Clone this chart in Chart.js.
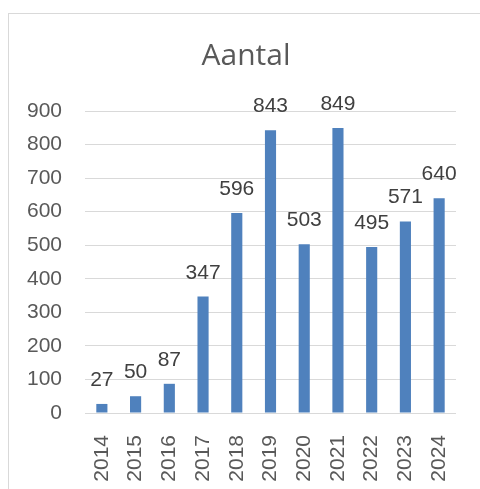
<!DOCTYPE html>
<html>
<head>
<meta charset="utf-8">
<script src="https://cdn.jsdelivr.net/npm/chart.js@4"></script>
<style>
  html, body { margin: 0; padding: 0; background: #ffffff; }
  #wrap { position: relative; width: 480px; height: 489px; overflow: hidden; }
  #frame { position: absolute; left: 8px; top: 13px; width: 600px; height: 600px; border: 1px solid #d9d9d9; box-sizing: border-box; }
  #c { position: absolute; left: 0; top: 0; }
</style>
</head>
<body>
<div id="wrap">
  <div id="frame"></div>
  <canvas id="c" width="480" height="489"></canvas>
</div>
<script>
const categories = ['2014','2015','2016','2017','2018','2019','2020','2021','2022','2023','2024'];
const values = [27, 50, 87, 347, 596, 843, 503, 849, 495, 571, 640];
const chartTitle = 'Aantal';
const yMin = 0, yMax = 900, yStep = 100;

const dataLabels = {
  id: 'dataLabels',
  afterDatasetsDraw(chart) {
    const ctx = chart.ctx;
    const meta = chart.getDatasetMeta(0);
    ctx.save();
    ctx.font = '21px "Liberation Sans", Arial, sans-serif';
    ctx.fillStyle = '#404040';
    ctx.textAlign = 'center';
    ctx.textBaseline = 'alphabetic';
    meta.data.forEach((bar, i) => {
      ctx.fillText(String(values[i]), bar.x, bar.y - 18);
    });
    ctx.restore();
  }
};

const chartTitlePlugin = {
  id: 'chartTitlePlugin',
  afterDraw(chart) {
    const ctx = chart.ctx;
    ctx.save();
    ctx.font = '30px "Open Sans", sans-serif';
    ctx.fillStyle = '#595959';
    ctx.textAlign = 'center';
    ctx.textBaseline = 'alphabetic';
    ctx.fillText(chartTitle, 246, 65);
    ctx.restore();
  }
};

new Chart(document.getElementById('c'), {
  type: 'bar',
  data: {
    labels: categories,
    datasets: [{
      data: values,
      backgroundColor: '#4f81bd',
      borderWidth: 0,
      barPercentage: 0.33,
      categoryPercentage: 1
    }]
  },
  options: {
    responsive: false,
    animation: false,
    devicePixelRatio: 1,
    layout: { padding: { left: 16, right: 24, top: 111, bottom: 0 } },
    plugins: {
      legend: { display: false },
      tooltip: { enabled: false },
      title: { display: false }
    },
    scales: {
      x: {
        grid: { display: false },
        border: { display: false },
        ticks: {
          color: '#595959',
          font: { family: '"Liberation Sans", Arial, sans-serif', size: 21 },
          minRotation: 90,
          maxRotation: 90,
          padding: 14,
          autoSkip: false
        },
        afterFit(scale) { scale.height = 76; }
      },
      y: {
        min: yMin,
        max: yMax,
        grid: { color: '#d9d9d9', drawTicks: false, lineWidth: 1 },
        border: { display: false },
        ticks: {
          stepSize: yStep,
          color: '#595959',
          font: { family: '"Liberation Sans", Arial, sans-serif', size: 21 },
          padding: 23
        },
        afterFit(scale) { scale.width = 69; }
      }
    }
  },
  plugins: [dataLabels, chartTitlePlugin]
});
</script>
</body>
</html>
